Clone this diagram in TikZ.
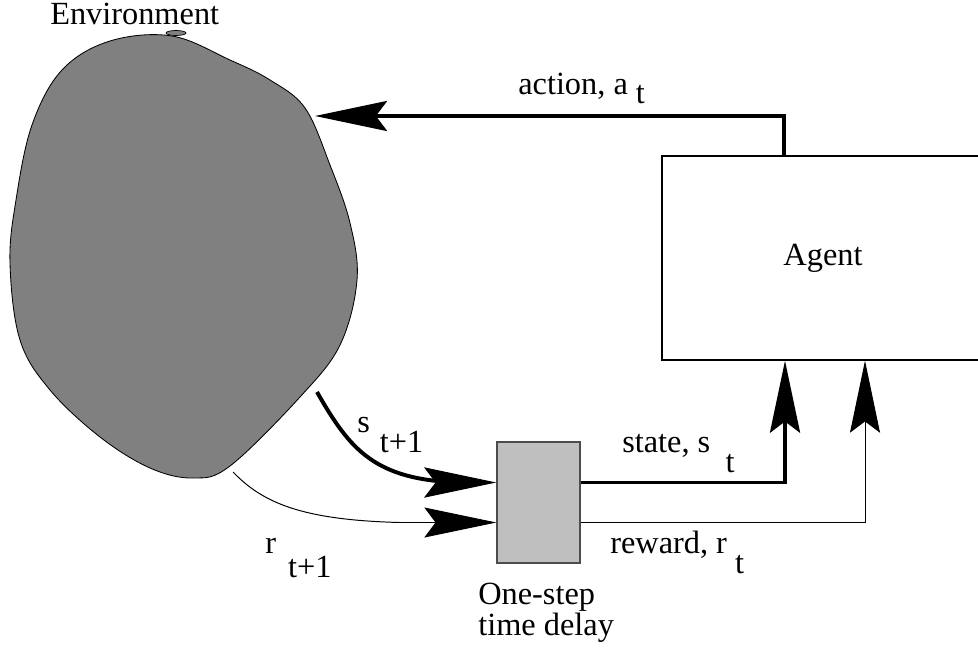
\documentclass[tikz,border=0pt]{standalone}
\usepackage{fontspec}
\setmainfont{Liberation Serif}
\usetikzlibrary{arrows.meta,calc,positioning}

% subscript set as lowered text
\newcommand{\lowered}[2]{\raisebox{-#1}{#2}}

\begin{document}
\begin{tikzpicture}[
    x=0.025cm, y=-0.025cm,
    font=\fontsize{23}{20}\selectfont,
    box/.style={rectangle, draw=black, line width=0.9pt, inner sep=0pt},
    tag/.style={inner sep=0pt, anchor=base west},
    fatarrow/.style={line width=2.8pt, -{Stealth[length=1.8cm, width=0.75cm, inset=0.28cm]}},
    thinarrow/.style={line width=0.7pt, -{Stealth[length=1.8cm, width=0.75cm, inset=0.28cm]}}
]
\useasboundingbox (0,0) rectangle (978,657);

% Environment blob
\draw[fill=gray, line width=0.6pt] plot[smooth cycle, tension=0.6] coordinates {
    (172,36) (110,41) (62,70) (32,125) (16,200) (10,263) (20,340) (50,390)
    (100,437) (150,468) (193,478) (230,466) (300,397) (340,345) (357,280)
    (350,223) (330,165) (305,108) (270,80) (230,60)};
\draw[fill=gray, line width=0.5pt] (176,33) ellipse [x radius=10, y radius=2.5];
\node[tag] (env-name) at (50,25) {Environment};

\coordinate (act-in) at (315,116);
\coordinate (env-s) at (317,392);
\coordinate (env-r) at (233,472);

% Agent and delay boxes
\node[box, minimum width=8.05cm, minimum height=5.1cm] (agent) at (823,258) {Agent};
\node[box, draw=black!70, fill=black!25, minimum width=2.075cm, minimum height=3.025cm]
    (delay) at (538.5,502.5) {};
\node[inner sep=0pt, anchor=north west, align=left] (delay-name) at (478,583)
    {One-step\\time delay};

% Signals
\draw[fatarrow] ($(agent.north west)+(123,0)$) |- (act-in);
\draw[fatarrow] ($(delay.east)+(0,-20)$) -| ($(agent.south)+(-38,0)$);
\draw[thinarrow] ($(delay.east)+(0,20)$) -| ($(agent.south)+(42,0)$);
\draw[fatarrow] (env-s) .. controls (350,450) and (375,480) .. (460,482.5)
    -- ($(delay.west)+(0,-20)$);
\draw[thinarrow] (env-r) .. controls (262,502) and (300,520) .. (400,522.5)
    -- ($(delay.west)+(0,20)$);

% Labels
\node[tag] (action-tag) at (518,95) {action, a \lowered{0.2cm}{t}};
\node[tag] (state-tag) at (622,452) {state, s\hspace{0.38cm}\lowered{0.5cm}{t}};
\node[tag] (reward-tag) at (610,553) {reward, r \lowered{0.5cm}{t}};
\node[tag] (snext-tag) at (357,432) {s\hspace{0.25cm}\lowered{0.5cm}{t+1}};
\node[tag] (rnext-tag) at (265,553) {r\hspace{0.3cm}\lowered{0.6cm}{t+1}};

\end{tikzpicture}
\end{document}
